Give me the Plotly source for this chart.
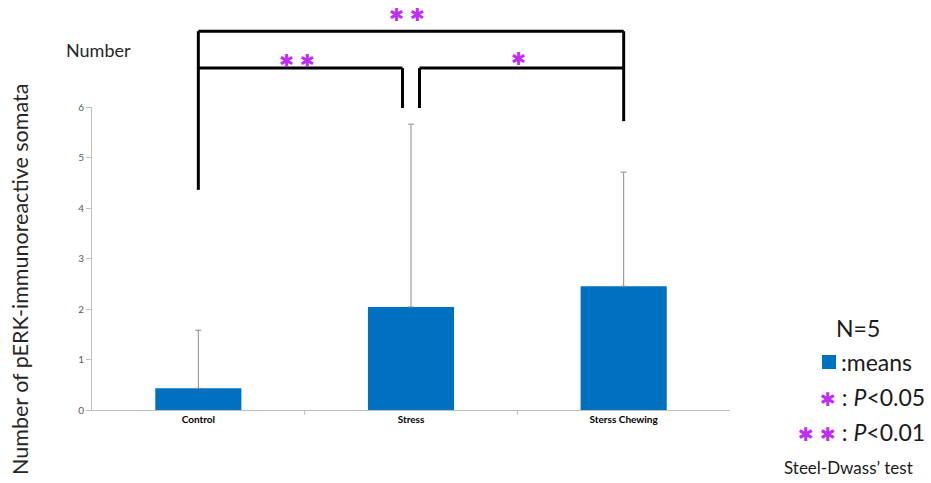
import plotly.graph_objects as go

# Group means and SDs (number of pERK-immunoreactive somata)
groups = ["Control", "Stress", "Sterss Chewing"]
means = [0.43, 2.04, 2.45]
sds = [1.15, 3.62, 2.26]
y_ticks = [0, 1, 2, 3, 4, 5, 6]

BLUE = "#0070C0"
STAR = "#C02CF5"
FONT = "Lato, Calibri, Carlito, sans-serif"

W, H = 931, 483
L, R, T, B = 92, 201, 107, 73
YMAX = 6.0
plot_w = W - L - R
plot_h = H - T - B


def px_x(px):
    return (px - L) / plot_w


def px_y(py):
    return (H - B - py) / plot_h


def dy(v):
    # data value -> paper fraction
    return v / YMAX


xs = list(range(len(groups)))

fig = go.Figure()
fig.add_trace(go.Bar(
    x=xs, y=means, width=0.405,
    marker=dict(color=BLUE, line=dict(width=0)),
    error_y=dict(type="data", symmetric=False, array=sds,
                 arrayminus=[0] * len(sds), color="#8C8C8C",
                 thickness=1, width=3),
    showlegend=False, hoverinfo="skip",
))

# significance brackets (x in category units, heights in data units)
lw = 3
outer_y, inner_y = 7.5, 6.77
leg_end_inner = 5.98
off = 0.04
brackets = [
    # outer bracket Control vs Sterss Chewing
    (0, 4.36, 0, outer_y),
    (0, outer_y, 2, outer_y),
    (2, outer_y, 2, 5.72),
    # Control vs Stress
    (0, inner_y, 1 - off, inner_y),
    (1 - off, inner_y, 1 - off, leg_end_inner),
    # Stress vs Sterss Chewing
    (1 + off, leg_end_inner, 1 + off, inner_y),
    (1 + off, inner_y, 2, inner_y),
]
for x0, y0, x1, y1 in brackets:
    fig.add_shape(type="line", xref="x", yref="paper",
                  x0=x0, x1=x1, y0=dy(y0), y1=dy(y1),
                  line=dict(color="black", width=lw))

star_font = dict(family="DejaVu Sans", size=18, color=STAR)
for x, y, txt in [(0.98, 7.84, "✱ ✱"), (0.465, 6.92, "✱ ✱"), (1.505, 6.97, "✱")]:
    fig.add_annotation(x=x, y=dy(y), xref="x", yref="paper", text=txt,
                       showarrow=False, font=star_font,
                       xanchor="center", yanchor="middle")

# axis labels
fig.add_annotation(x=px_x(20), y=px_y(280), xref="paper", yref="paper",
                   text="Number of pERK-immunoreactive somata", textangle=-90,
                   showarrow=False, font=dict(family=FONT, size=21.5, color="#262626"),
                   xanchor="center", yanchor="middle")
fig.add_annotation(x=px_x(64), y=px_y(50), xref="paper", yref="paper",
                   text="Number", showarrow=False,
                   font=dict(family=FONT, size=18, color="#262626"),
                   xanchor="left", yanchor="middle")

# key on the right
key_font = dict(family=FONT, size=23, color="#1a1a1a")
star_span = f"<span style='color:{STAR};font-family:DejaVu Sans;font-size:19px'>"
fig.add_annotation(x=px_x(858), y=px_y(328), xref="paper", yref="paper",
                   text="N=5", showarrow=False, font=key_font,
                   xanchor="center", yanchor="middle")
fig.add_shape(type="rect", xref="paper", yref="paper",
              x0=px_x(822), x1=px_x(836), y0=px_y(369), y1=px_y(355),
              fillcolor=BLUE, line=dict(width=0))
fig.add_annotation(x=px_x(839), y=px_y(362), xref="paper", yref="paper",
                   text=":means", showarrow=False, font=key_font,
                   xanchor="left", yanchor="middle")
fig.add_annotation(x=px_x(927), y=px_y(397), xref="paper", yref="paper",
                   text=f"{star_span}✱</span> : <i>P</i>&lt;0.05",
                   showarrow=False, font=key_font, xanchor="right", yanchor="middle")
fig.add_annotation(x=px_x(927), y=px_y(432), xref="paper", yref="paper",
                   text=f"{star_span}✱ ✱</span> : <i>P</i>&lt;0.01",
                   showarrow=False, font=key_font, xanchor="right", yanchor="middle")
fig.add_annotation(x=px_x(848), y=px_y(467), xref="paper", yref="paper",
                   text="Steel-Dwass’ test", showarrow=False,
                   font=dict(family=FONT, size=17, color="#1a1a1a"),
                   xanchor="center", yanchor="middle")

fig.update_layout(
    width=W, height=H,
    margin=dict(l=L, r=R, t=T, b=B, pad=0),
    paper_bgcolor="white", plot_bgcolor="white",
    bargap=0.6,
    xaxis=dict(range=[-0.5, 2.5], tickmode="array", tickvals=xs,
               ticktext=[f"<b>{g}</b>" for g in groups],
               showgrid=False, zeroline=False, showline=True,
               linecolor="#BFBFBF", linewidth=1, ticks="",
               tickfont=dict(family=FONT, size=10, color="#000000")),
    yaxis=dict(range=[0, YMAX], tickmode="array", tickvals=y_ticks,
               showgrid=False, zeroline=False, showline=True,
               linecolor="#BFBFBF", linewidth=1, ticks="outside",
               ticklen=5, tickcolor="#BFBFBF",
               tickfont=dict(family=FONT, size=10, color="#595959")),
)

# minor divider ticks between categories on the x axis
for xv in [0.5, 1.5]:
    fig.add_shape(type="line", xref="x", yref="paper", x0=xv, x1=xv,
                  y0=0, y1=-5 / plot_h, line=dict(color="#BFBFBF", width=1))

fig.write_html("out.html")
